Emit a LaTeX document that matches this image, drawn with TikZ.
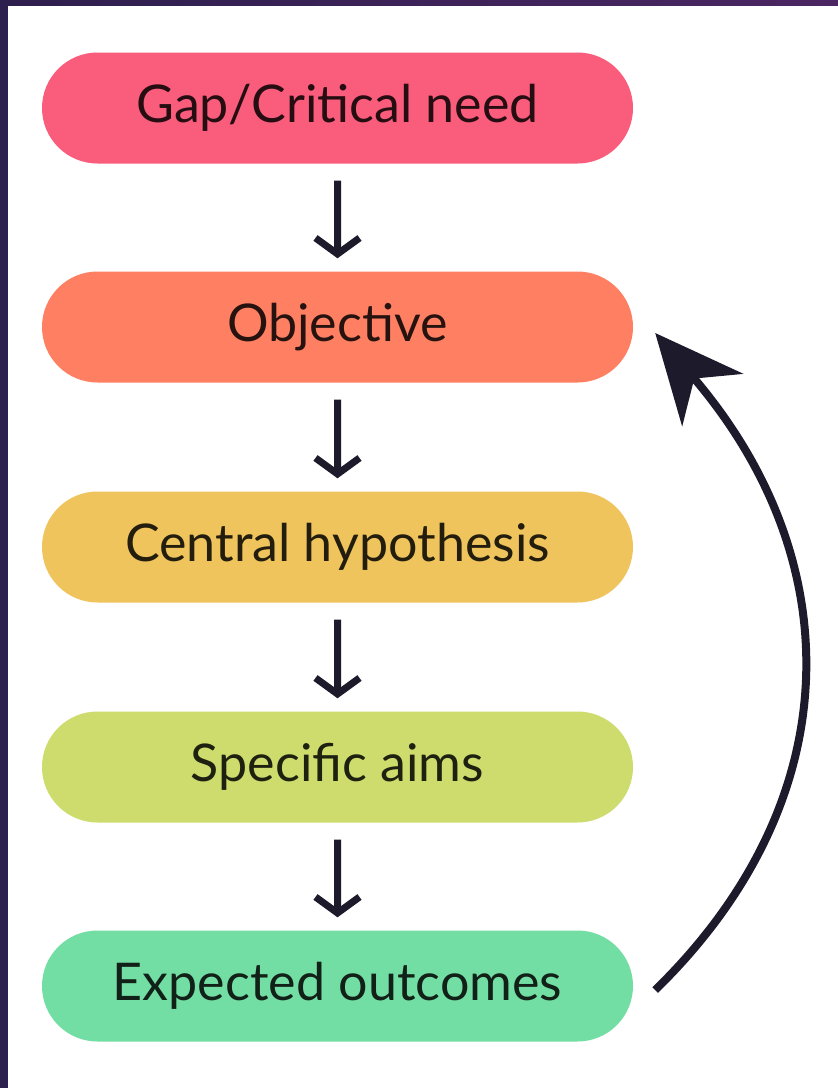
\documentclass[tikz,border=0pt]{standalone}
\usepackage{fontspec}
\setmainfont{Lato}
\usetikzlibrary{arrows.meta}
\definecolor{frame1}{HTML}{2D1F4E}
\definecolor{frame2}{HTML}{4B2662}
\definecolor{gapcol}{HTML}{FA5C7C}
\definecolor{objcol}{HTML}{FF7F62}
\definecolor{hypcol}{HTML}{F0C45C}
\definecolor{aimcol}{HTML}{CDDC6C}
\definecolor{outcol}{HTML}{73DEA4}
\definecolor{arrcol}{HTML}{1D1A2C}
\tikzset{
  stage/.style={rounded rectangle, minimum width=591pt, minimum height=111pt,
    inner sep=0pt, text=black, text opacity=0.85,
    font=\fontsize{52}{60}\selectfont},
  down/.style={draw=arrcol, line width=7pt, shorten <=17pt, shorten >=13pt,
    -{Straight Barb[length=16pt,width=44pt]}},
  back/.style={draw=arrcol, line width=8pt,
    -{Stealth[length=88pt,width=80pt,inset=28pt]}}
}
\usetikzlibrary{shapes.misc}
\begin{document}
\begin{tikzpicture}[x=1pt,y=-1pt]
\useasboundingbox (0,0) rectangle (838,1088);
\fill[white] (0,0) rectangle (838,1088);
\shade[left color=frame1, right color=frame2] (0,0) rectangle (838,5);
\fill[frame1] (0,0) rectangle (8,1088);
% stages
\node[stage, fill=gapcol] (gap) at (337.5,108) {Gap/Critical need};
\node[stage, fill=objcol] (obj) at (337.5,327) {Objective};
\node[stage, fill=hypcol] (hyp) at (337.5,547) {Central hypothesis};
\node[stage, fill=aimcol] (aims) at (337.5,767) {Specific aims};
\node[stage, fill=outcol] (outc) at (337.5,986) {Expected outcomes};
% arrows
\draw[down] (gap) -- (obj);
\draw[down] (obj) -- (hyp);
\draw[down] (hyp) -- (aims);
\draw[down] (aims) -- (outc);
\draw[back] ([xshift=22pt,yshift=-4pt]outc.east) .. controls (850,800) and (850,560) .. ([xshift=22pt,yshift=-6pt]obj.east);
\end{tikzpicture}
\end{document}
